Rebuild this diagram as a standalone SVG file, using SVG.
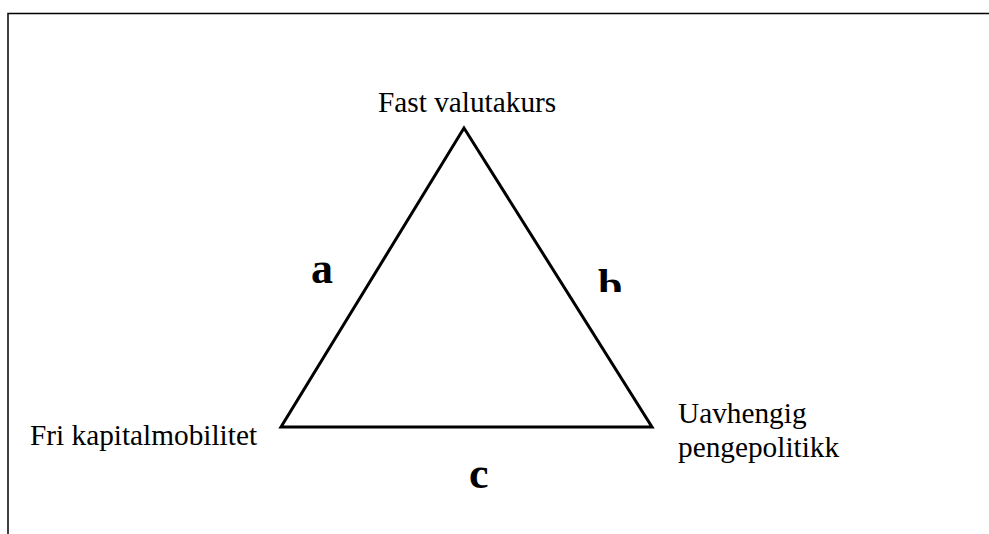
<svg xmlns="http://www.w3.org/2000/svg" width="989" height="534" viewBox="0 0 989 534">
<style>
.lbl{font-family:"Liberation Serif","Times New Roman",serif;font-size:29.3px;fill:#000}
.big{font-family:"Liberation Serif","Times New Roman",serif;font-size:44px;font-weight:bold;fill:#000}
.frame{stroke:#000;stroke-width:1.5;fill:none}
.edge{stroke:#000;stroke-width:3;fill:none;stroke-linejoin:miter}
</style>
<defs><clipPath id="clipb"><rect x="580" y="240" width="60" height="52"/></clipPath></defs>
<rect width="989" height="534" fill="#fff"/>
<path class="frame" d="M8 534 V13.5 H989"/>
<g id="connectors">
<polygon class="edge" points="464,128 281,427 652,427"/>
</g>
<g id="node-fast"><text class="lbl" x="378" y="112">Fast valutakurs</text></g>
<g id="node-fri"><text class="lbl" x="30" y="445">Fri kapitalmobilitet</text></g>
<g id="node-uavh"><text class="lbl" x="678" y="423">Uavhengig</text><text class="lbl" x="678" y="457">pengepolitikk</text></g>
<g id="label-a"><text class="big" x="311" y="283">a</text></g>
<g id="label-b"><text class="big" x="598" y="300" clip-path="url(#clipb)">b</text></g>
<g id="label-c"><text class="big" x="469" y="488">c</text></g>
</svg>
